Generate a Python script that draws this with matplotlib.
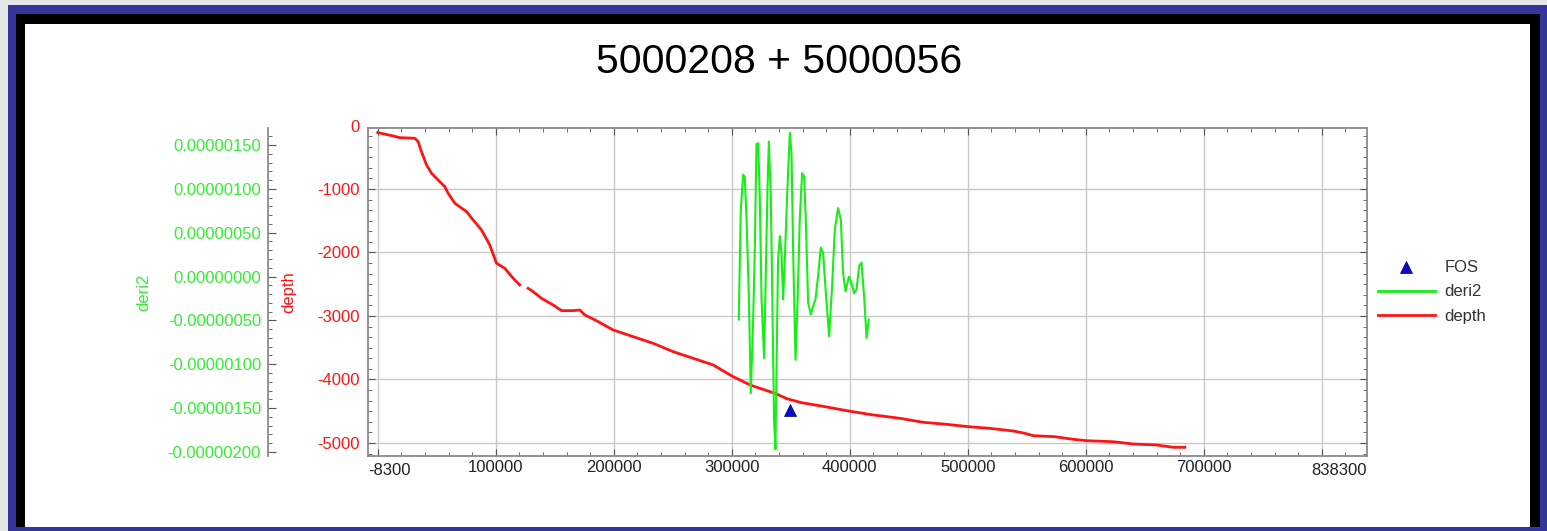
import numpy as np
import matplotlib
matplotlib.use("Agg")
import matplotlib.pyplot as plt
from matplotlib.patches import Rectangle
from matplotlib.lines import Line2D
from matplotlib.ticker import MultipleLocator, FormatStrFormatter
import matplotlib.transforms as mtransforms

plt.rcParams['font.family'] = ['Liberation Sans', 'DejaVu Sans']
plt.rcParams['axes.unicode_minus'] = False

# ====================== DATA ======================
title = "5000208 + 5000056"

# depth curve (nan = gap in the line)
depth_x = [0, 13000, 18600, 31400, 34200, 37000, 41300, 45500, 52500, 56800,
           59600, 65300, 75200, 80800, 87900, 94900, 100600, 107600, 114700, 120300,
           np.nan, 127400, 131600, 138700, 148600, 155700, 165500, 171200, 175400,
           185300, 199400, 216400, 233300, 250300, 267200, 284200, 301100, 316000,
           336400, 347000, 359000, 378800, 398600, 418400, 442400, 462100, 482000,
           500300, 518600, 538400, 548300, 555400, 573700, 589200, 600600, 623100,
           640100, 659900, 674000, 683900]
depth_y = [-113, -165, -192, -202, -255, -413, -622, -753, -885, -964,
           -1068, -1225, -1357, -1488, -1646, -1882, -2170, -2249, -2406, -2512,
           np.nan, -2564, -2617, -2722, -2827, -2916, -2916, -2906, -2984,
           -3074, -3220, -3326, -3430, -3562, -3666, -3771, -3956, -4090,
           -4217, -4305, -4365, -4428, -4495, -4555, -4611, -4674, -4706,
           -4743, -4769, -4811, -4847, -4885, -4901, -4942, -4964, -4980,
           -5016, -5031, -5068, -5068]

# deri2 curve, values in 1e-6
deri2_x = [305900, 307600, 309600, 311000, 312500, 314400, 316100, 318100, 319500,
           320900, 322300, 323700, 325200, 327400, 328600, 330300, 331400, 333100,
           334500, 335800, 337000, 338100, 339200, 340700, 342100, 343500, 344900,
           347200, 349200, 350600, 352000, 354000, 355700, 357600, 359600, 361300,
           362700, 364700, 367000, 368900, 370900, 373100, 375400, 377400, 379700,
           382500, 385000, 387300, 390100, 392400, 394300, 396400, 399200, 401400,
           403600, 405700, 407900, 409900, 412100, 414200, 416100]
deri2_y = [-0.49, 0.76, 1.16, 1.14, 0.65, -0.19, -1.33, -0.49, 0.31,
           1.51, 1.52, 0.92, -0.26, -0.93, -0.11, 1.03, 1.54, 0.88,
           -0.41, -1.63, -1.97, -0.87, 0.19, 0.46, 0.27, -0.26, 0.19,
           1.03, 1.64, 1.41, 0.27, -0.95, -0.30, 0.65, 1.18, 1.14,
           0.65, -0.30, -0.43, -0.34, -0.26, 0.00, 0.33, 0.27, -0.19,
           -0.68, -0.11, 0.54, 0.78, 0.65, 0.04, -0.17, 0.00, -0.07,
           -0.19, -0.15, 0.12, 0.16, -0.22, -0.70, -0.49]

fos_x = [349200]
fos_y = [-4480]

x_limits = [-8300, 838300]
x_grid = [0, 100000, 200000, 300000, 400000, 500000, 600000, 700000, 800000]
x_tick_labels = ['', '100000', '200000', '300000', '400000', '500000', '600000', '700000', '']
depth_ticks = [-5000, -4000, -3000, -2000, -1000]
depth_limits = [-5205, -40]
deri2_limits = [-2.046e-6, 1.694e-6]

RED = '#ff1414'
GREEN = '#16ee16'
GREEN_TXT = '#33ee33'
FS = 12

# ====================== FIGURE ======================
W, H = 1547, 531
fig = plt.figure(figsize=(W / 100, H / 100), dpi=100, facecolor='#e6e6e6')

def px_rect(x0, y0, x1, y1, color):
    fig.add_artist(Rectangle((x0 / W, 1 - y1 / H), (x1 - x0) / W, (y1 - y0) / H,
                             transform=fig.transFigure, facecolor=color,
                             edgecolor='none', zorder=-10))

px_rect(8, 5, W, H, '#35369b')
px_rect(16, 14, 1540, 527, 'black')
px_rect(25, 24, 1530, 527, 'white')

fig.text(779 / W, 1 - 62 / H, title, ha='center', va='center', fontsize=29.5, color='#000000')

ax = fig.add_axes([368 / W, 1 - 456 / H, 999 / W, 328 / H])
ax.set_facecolor('none')

ax.plot(depth_x, depth_y, color=RED, lw=2.0, label='depth', zorder=3)
ax.plot(fos_x, fos_y, linestyle='none', marker='^', markersize=8.5, color='#0a0acc',
        markeredgecolor='#000066', markeredgewidth=0.5, label='FOS', zorder=4)

ax.set_xlim(*x_limits)
ax.set_ylim(*depth_limits)
ax.set_xticks(x_grid)
ax.set_xticklabels(x_tick_labels)
ax.xaxis.set_minor_locator(MultipleLocator(20000))
ax.set_yticks(depth_ticks)
ax.yaxis.set_minor_locator(MultipleLocator(1000 / 6))
ax.grid(True, which='major', color='#c8c8c8', lw=1)
ax.set_axisbelow(True)

for s in ax.spines.values():
    s.set_color('#8a8a8a')
    s.set_linewidth(1.3)

# end labels of the axes (clamped inside like the original)
bt = mtransforms.blended_transform_factory(ax.transData, ax.transAxes)
ax.text(x_limits[0], -0.02, '-8300', transform=bt, ha='left', va='top',
        fontsize=FS, color='#222222')
ax.text(x_limits[1], -0.02, '838300', transform=bt, ha='right', va='top',
        fontsize=FS, color='#222222')
ax.text(-0.008, 1.0, '0', transform=ax.transAxes, ha='right', va='center',
        fontsize=FS, color=RED)

ax.set_ylabel('depth', color=RED, fontsize=FS)
ax.yaxis.set_label_coords(-0.072, 0.5)

# deri2 axis, shifted 100 px to the left
ax2 = ax.twinx()
ax2.plot(deri2_x, np.array(deri2_y) * 1e-6, color=GREEN, lw=1.5, label='deri2')
ax2.set_ylim(*deri2_limits)
ax2.yaxis.tick_left()
ax2.yaxis.set_label_position('left')
ax2.spines['left'].set_position(('outward', 72))
for k in ['right', 'top', 'bottom']:
    ax2.spines[k].set_visible(False)
ax2.spines['left'].set_color('#8a8a8a')
ax2.spines['left'].set_linewidth(1.3)
ax2.yaxis.set_major_locator(MultipleLocator(0.5e-6))
ax2.yaxis.set_minor_locator(MultipleLocator(0.1e-6))
ax2.yaxis.set_major_formatter(FormatStrFormatter('%.8f'))
ax2.tick_params(axis='y', which='both', direction='in', colors='#555555',
                labelcolor=GREEN_TXT, labelsize=FS, pad=5)
ax2.tick_params(axis='y', which='major', length=6)
ax2.tick_params(axis='y', which='minor', length=3)
ax2.set_ylabel('deri2', color=GREEN_TXT, fontsize=FS)
ax2.yaxis.set_label_coords(-0.217, 0.5)

ax.tick_params(axis='both', which='both', direction='in', colors='#555555',
               top=True, right=True, left=True, bottom=True)
ax.tick_params(axis='both', which='major', length=5)
ax.tick_params(axis='both', which='minor', length=3)
ax.tick_params(axis='x', labelsize=FS, labelcolor='#222222', pad=3)
ax.tick_params(axis='y', labelsize=FS, labelcolor=RED, pad=6)

handles = [Line2D([], [], linestyle='none', marker='^', markersize=8.5, color='#0a0acc',
                  markeredgecolor='#000066', markeredgewidth=0.5),
           Line2D([], [], color=GREEN, lw=2),
           Line2D([], [], color=RED, lw=2)]
fig.legend(handles, ['FOS', 'deri2', 'depth'], loc='center left',
           bbox_to_anchor=(1378 / W, 1 - 292 / H), frameon=False,
           fontsize=FS, handlelength=3.4, handletextpad=0.6, labelspacing=0.55,
           borderpad=0, borderaxespad=0, labelcolor='#333333')

fig.savefig('out.png', dpi=100, facecolor=fig.get_facecolor())
